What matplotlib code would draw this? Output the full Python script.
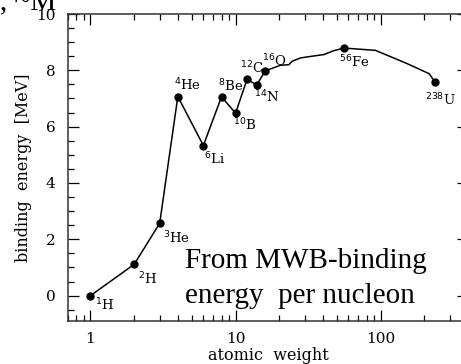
import numpy as np
import matplotlib.pyplot as plt
from matplotlib.ticker import MultipleLocator, LogLocator, NullFormatter, FixedLocator, FixedFormatter

# labelled nuclei: mass number, binding energy per nucleon [MeV]
nuclei = [r'$^{1}$H', r'$^{2}$H', r'$^{3}$He', r'$^{4}$He', r'$^{6}$Li', r'$^{8}$Be',
          r'$^{10}$B', r'$^{12}$C', r'$^{14}$N', r'$^{16}$O', r'$^{56}$Fe', r'$^{238}$U']
mass_number = [1, 2, 3, 4, 6, 8, 10, 12, 14, 16, 56, 238]
binding = [0.0, 1.11, 2.57, 7.07, 5.33, 7.06, 6.48, 7.68, 7.48, 7.98, 8.79, 7.57]

# smooth trend through the heavier nuclei
curve_A = [16, 20.4, 23.3, 24.5, 28, 34.6, 40.7, 47.6, 56, 92, 152, 216, 238]
curve_B = [7.98, 8.18, 8.20, 8.32, 8.44, 8.51, 8.56, 8.70, 8.79, 8.71, 8.24, 7.88, 7.57]

# label offsets in pixels (dx, dy) and vertical anchor
offsets = [(5, -1, 'top'), (4, -6, 'top'), (3, -6, 'top'), (-4, 3, 'bottom'),
           (1, -5, 'top'), (-4, 3, 'bottom'), (-3, -4, 'top'), (-7, 3, 'bottom'),
           (-3, -4, 'top'), (-3, 2, 'bottom'), (-5, -6, 'top'), (-10, -9, 'top')]

plt.rcParams['font.family'] = 'DejaVu Serif'

fig = plt.figure(figsize=(4.61, 3.64), dpi=100)
ax = fig.add_axes([68 / 461, 1 - 321 / 364, 400 / 461, 307 / 364])

ax.plot(mass_number[:10], binding[:10], color='black', lw=1.1)
ax.plot(curve_A, curve_B, color='black', lw=1.1)
ax.plot(mass_number, binding, 'o', color='black', ms=5)

for name, a, b, (dx, dy, va) in zip(nuclei, mass_number, binding, offsets):
    ax.annotate(name, (a, b), xytext=(dx, dy), textcoords='offset pixels',
                ha='left', va=va, fontsize=9.5)

ax.set_xscale('log')
ax.set_xlim(0.7, 400)
ax.set_ylim(-0.9, 10)

ax.xaxis.set_major_locator(FixedLocator([1, 10, 100]))
ax.xaxis.set_major_formatter(FixedFormatter(['1', '10', '100']))
ax.xaxis.set_minor_locator(LogLocator(base=10, subs=np.arange(2, 10)))
ax.xaxis.set_minor_formatter(NullFormatter())
ax.yaxis.set_major_locator(MultipleLocator(2))
ax.yaxis.set_minor_locator(MultipleLocator(0.5))

ax.tick_params(which='both', direction='in', top=True, right=True, labelsize=11)
ax.tick_params(which='major', length=8, width=0.9)
ax.tick_params(which='minor', length=4, width=0.9)
ax.tick_params(axis='y', which='major', pad=9)
ax.tick_params(axis='x', which='major', pad=8)
for s in ax.spines.values():
    s.set_linewidth(1.1)
    s.set_color('#333333')

ax.set_xlabel('atomic  weight', fontsize=11.5, labelpad=1)
ax.set_ylabel('binding  energy  [MeV]', fontsize=11.5, labelpad=3)

ax.text(0.2925, 0.173, 'From MWB-binding', transform=ax.transAxes,
        family='Liberation Serif', fontsize=21, va='baseline', ha='left')
ax.text(0.2925, 0.059, 'energy  per nucleon', transform=ax.transAxes,
        family='Liberation Serif', fontsize=21, va='baseline', ha='left')
fig.text(0.0, 1 - 9 / 364, ', ~M', family='Liberation Serif', fontsize=21, va='baseline')

fig.savefig('out.png', dpi=100)
